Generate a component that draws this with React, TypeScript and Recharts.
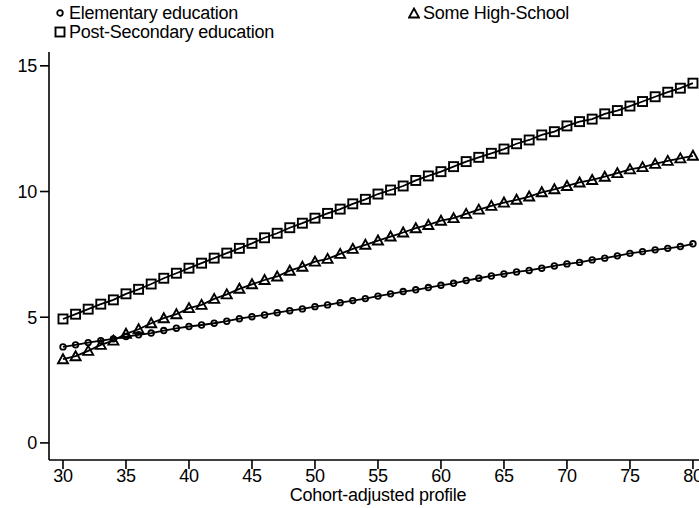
import React from 'react';
import { LineChart, Line, XAxis, YAxis } from 'recharts';

// ── Data ───────────────────────────────────────────────────

const AGES = [
  30, 31, 32, 33, 34, 35, 36, 37, 38, 39, 40, 41, 42, 43, 44, 45, 46, 47, 48, 49, 50,
  51, 52, 53, 54, 55, 56, 57, 58, 59, 60, 61, 62, 63, 64, 65, 66, 67, 68, 69, 70,
  71, 72, 73, 74, 75, 76, 77, 78, 79, 80,
];

const ELEMENTARY = [
  3.82, 3.9, 3.99, 4.07, 4.14, 4.23, 4.3, 4.37, 4.47, 4.56, 4.63, 4.69, 4.76, 4.84, 4.94, 5.02, 5.09, 5.18, 5.26, 5.33, 5.42,
  5.49, 5.58, 5.66, 5.74, 5.84, 5.93, 6.02, 6.09, 6.18, 6.27, 6.35, 6.46, 6.55, 6.64, 6.72, 6.8, 6.86, 6.95, 7.04, 7.12,
  7.18, 7.28, 7.35, 7.44, 7.54, 7.61, 7.68, 7.74, 7.81, 7.92,
];

const SOME_HIGH_SCHOOL = [
  3.33, 3.45, 3.66, 3.9, 4.07, 4.34, 4.52, 4.76, 4.96, 5.12, 5.36, 5.49, 5.73, 5.91, 6.13, 6.31, 6.48, 6.62, 6.85, 7.01, 7.21,
  7.32, 7.52, 7.72, 7.88, 8.05, 8.21, 8.37, 8.54, 8.67, 8.84, 8.94, 9.11, 9.28, 9.43, 9.56, 9.67, 9.8, 9.97, 10.09, 10.22,
  10.36, 10.46, 10.59, 10.73, 10.88, 10.97, 11.1, 11.22, 11.32, 11.42,
];

const POST_SECONDARY = [
  4.93, 5.12, 5.32, 5.52, 5.69, 5.93, 6.11, 6.32, 6.55, 6.75, 6.95, 7.15, 7.35, 7.55, 7.74, 7.94, 8.16, 8.34, 8.56, 8.74, 8.94,
  9.13, 9.3, 9.51, 9.69, 9.9, 10.06, 10.22, 10.44, 10.62, 10.79, 10.99, 11.19, 11.36, 11.52, 11.69, 11.9, 12.05, 12.25, 12.38, 12.61,
  12.78, 12.88, 13.09, 13.22, 13.4, 13.58, 13.77, 13.95, 14.11, 14.31,
];

const X_TICKS = [30, 35, 40, 45, 50, 55, 60, 65, 70, 75, 80];
const Y_TICKS = [0, 5, 10, 15];

const data = AGES.map((age, i) => ({
  age,
  elementary: ELEMENTARY[i],
  someHs: SOME_HIGH_SCHOOL[i],
  postSec: POST_SECONDARY[i],
}));

// ── Styles ─────────────────────────────────────────────────

const FONT = '"Liberation Sans", Arial, Helvetica, sans-serif';
const FONT_SIZE = 18;
const LETTER_SPACING = -0.25;
const LINE_W = 1.8;

// ── Markers ────────────────────────────────────────────────

const CircleDot = (p: any) => (
  <circle key={`c-${p.index}`} cx={p.cx} cy={p.cy} r={2.8} fill="none" stroke="#000" strokeWidth={1.8} />
);

const SquareDot = (p: any) => (
  <rect key={`s-${p.index}`} x={p.cx - 4.5} y={p.cy - 4.5} width={9} height={9} fill="none" stroke="#000" strokeWidth={1.9} />
);

const TriangleDot = (p: any) => (
  <path
    key={`t-${p.index}`}
    d={`M${p.cx},${p.cy - 5} L${p.cx + 5},${p.cy + 4} L${p.cx - 5},${p.cy + 4} Z`}
    fill="none"
    stroke="#000"
    strokeWidth={1.9}
  />
);

// ── Legend ─────────────────────────────────────────────────

function LegendItem({ marker, label, left, top }: { marker: string; label: string; left: number; top: number }) {
  return (
    <div style={{ position: 'absolute', left, top, display: 'flex', alignItems: 'center', whiteSpace: 'nowrap' }}>
      <svg width={12} height={12} style={{ marginRight: 3 }}>
        {marker === 'circle' && <circle cx={6} cy={6} r={2.8} fill="none" stroke="#000" strokeWidth={1.8} />}
        {marker === 'square' && <rect x={1.5} y={1.5} width={9} height={9} fill="none" stroke="#000" strokeWidth={1.9} />}
        {marker === 'triangle' && <path d="M6,1.5 L11,10.5 L1,10.5 Z" fill="none" stroke="#000" strokeWidth={1.8} />}
      </svg>
      <span style={{ fontFamily: FONT, fontSize: FONT_SIZE, letterSpacing: LETTER_SPACING, color: '#000', lineHeight: '18px' }}>
        {label}
      </span>
    </div>
  );
}

// ── Chart ──────────────────────────────────────────────────

export default function App() {
  const tickStyle = { fontFamily: FONT, fontSize: FONT_SIZE, fill: '#000', letterSpacing: LETTER_SPACING };

  return (
    <div style={{ position: 'absolute', left: 0, top: 0, width: 699, height: 508, background: '#fff' }}>
      <LineChart width={699} height={508} data={data} margin={{ top: 52, right: 0, bottom: 0, left: 0 }}>
        <XAxis
          type="number"
          dataKey="age"
          domain={[28.89, 80.48]}
          allowDataOverflow
          ticks={X_TICKS}
          interval={0}
          height={48}
          tickSize={9}
          tickMargin={0}
          stroke="#000"
          strokeWidth={1.6}
          tick={tickStyle}
          label={({ viewBox }: any) => (
            <text
              x={viewBox.x + viewBox.width / 2 + 4}
              y={viewBox.y + viewBox.height - 7}
              textAnchor="middle"
              style={{ fontFamily: FONT, fontSize: FONT_SIZE, letterSpacing: LETTER_SPACING }}
              fill="#000"
            >
              Cohort-adjusted profile
            </text>
          )}
        />
        <YAxis
          type="number"
          domain={[-0.68, 15.55]}
          allowDataOverflow
          ticks={Y_TICKS}
          interval={0}
          width={49}
          tickSize={9}
          tickMargin={3}
          stroke="#000"
          strokeWidth={1.6}
          tick={tickStyle}
        />
        <Line
          type="linear"
          dataKey="postSec"
          name="Post-Secondary education"
          stroke="#000"
          strokeWidth={LINE_W}
          dot={SquareDot}
          activeDot={false}
          isAnimationActive={false}
        />
        <Line
          type="linear"
          dataKey="someHs"
          name="Some High-School"
          stroke="#000"
          strokeWidth={LINE_W}
          dot={TriangleDot}
          activeDot={false}
          isAnimationActive={false}
        />
        <Line
          type="linear"
          dataKey="elementary"
          name="Elementary education"
          stroke="#000"
          strokeWidth={LINE_W}
          dot={CircleDot}
          activeDot={false}
          isAnimationActive={false}
        />
      </LineChart>
      <div style={{ position: 'absolute', left: 0, top: 0, width: 699, height: 44 }}>
        <LegendItem marker="circle" label="Elementary education" left={54} top={4} />
        <LegendItem marker="triangle" label="Some High-School" left={408} top={4} />
        <LegendItem marker="square" label="Post-Secondary education" left={54} top={23} />
      </div>
    </div>
  );
}
